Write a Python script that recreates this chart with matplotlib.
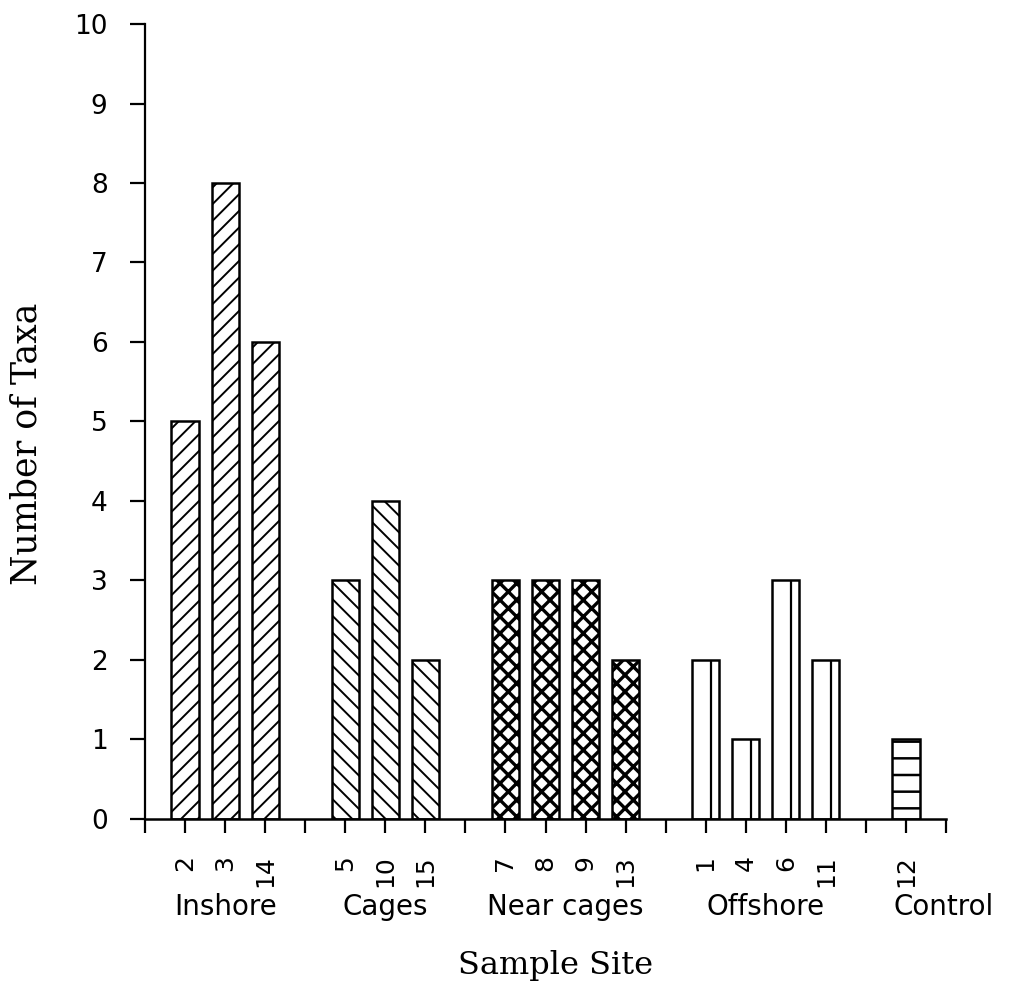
import numpy as np
import matplotlib
matplotlib.use("Agg")
import matplotlib.pyplot as plt

# data
groups = ["Inshore", "Cages", "Near cages", "Offshore", "Control"]
inshoreSites = ["2", "3", "14"]
inshoreTaxa = [5, 8, 6]
cageSites = ["5", "10", "15"]
cageTaxa = [3, 4, 2]
nearSites = ["7", "8", "9", "13"]
nearTaxa = [3, 3, 3, 2]
offshoreSites = ["1", "4", "6", "11"]
offshoreTaxa = [2, 1, 3, 2]
controlSites = ["12"]
controlTaxa = [1]

groupSites = [inshoreSites, cageSites, nearSites, offshoreSites, controlSites]
groupTaxa = [inshoreTaxa, cageTaxa, nearTaxa, offshoreTaxa, controlTaxa]
hatches = ["//", "\\\\", "xx", "", "-"]
hatchWidths = [1.4, 1.4, 2.4, 1.4, 1.8]
labelNudge = [0, 0, 0, 0, 0.95]

plt.rcParams["font.family"] = "DejaVu Sans"

fig = plt.figure(figsize=(10.1, 9.88), dpi=100)
ax = fig.add_axes([0.1436, 0.1711, 0.7930, 0.8046])

barW = 0.68
start = 1
tickPos, tickLab = [], []
for g, (sites, taxa) in enumerate(zip(groupSites, groupTaxa)):
    pos = np.arange(start, start + len(sites))
    with plt.rc_context({"hatch.linewidth": hatchWidths[g]}):
        ax.bar(pos, taxa, width=barW, color="white", edgecolor="black",
               linewidth=1.8, hatch=hatches[g], zorder=2)
    if groups[g] == "Offshore":
        # open bars with one inner rule
        ax.vlines(pos - barW / 2 + 0.7 * barW, 0, taxa, color="black",
                  linewidth=1.6, zorder=3)
    tickPos += list(pos)
    tickLab += sites
    ax.text(pos.mean() + labelNudge[g], -0.111, groups[g],
            transform=ax.get_xaxis_transform(), ha="center", va="center",
            fontsize=20)
    start += len(sites) + 1

lastTick = start - 1
ax.set_xlim(0, lastTick)
ax.set_ylim(0, 10)

ax.xaxis.remove_overlapping_locs = False
ax.set_xticks(np.arange(0, lastTick + 1))
ax.set_xticklabels(["" for _ in range(lastTick + 1)])
ax.set_xticks(tickPos, minor=True)
ax.set_xticklabels(tickLab, minor=True, rotation=90, fontsize=18, va="top")
ax.tick_params(axis="x", which="major", direction="out", length=10, width=1.6)
ax.tick_params(axis="x", which="minor", direction="out", length=0, pad=26)

ax.set_yticks(np.arange(0, 11))
ax.tick_params(axis="y", direction="out", length=11, width=1.6,
               labelsize=19, pad=16)

for side in ["top", "right"]:
    ax.spines[side].set_visible(False)
ax.spines["left"].set_linewidth(1.6)
ax.spines["bottom"].set_linewidth(1.8)
ax.spines["bottom"].set_zorder(4)

fig.text(0.026, 1 - 444 / 988, "Number of Taxa", rotation=90, ha="center",
         va="center", fontsize=25, family="DejaVu Serif")
fig.text(0.55, 1 - 965 / 988, "Sample Site", ha="center", va="center",
         fontsize=23, family="DejaVu Serif")

fig.savefig("out.png", dpi=100)
